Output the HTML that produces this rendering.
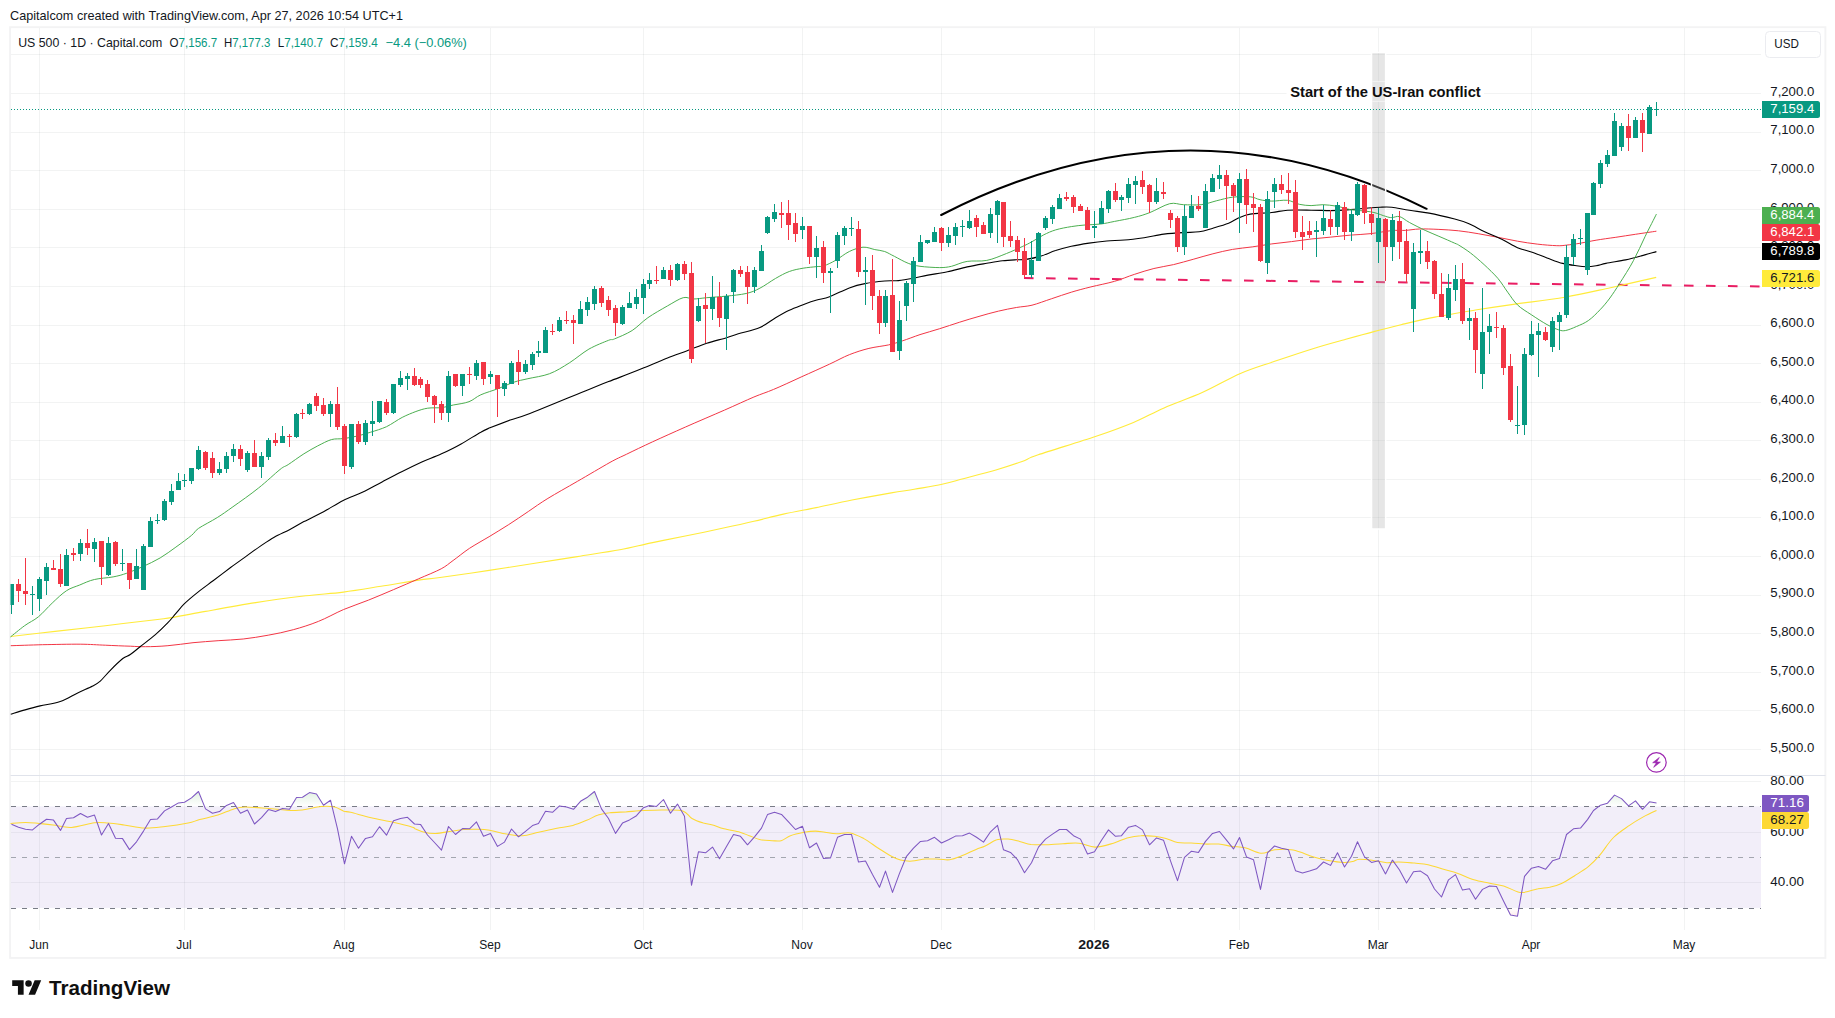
<!DOCTYPE html>
<html lang="en"><head><meta charset="utf-8"><title>US 500 chart</title>
<style>html,body{margin:0;padding:0;background:#fff}body{width:1835px;height:1018px;overflow:hidden}svg{display:block}</style></head>
<body>
<svg width="1835" height="1018" viewBox="0 0 1835 1018" font-family='"Liberation Sans", Arial, sans-serif'>
<defs><clipPath id="cm"><rect x="10.5" y="27.5" width="1750.5" height="748"/></clipPath><clipPath id="cr"><rect x="10.5" y="776" width="1750.5" height="154"/></clipPath><clipPath id="cup"><rect x="10" y="776" width="1751" height="30.4"/></clipPath><clipPath id="cdn"><rect x="10" y="908.2" width="1751" height="22"/></clipPath><linearGradient id="gup" gradientUnits="userSpaceOnUse" x1="0" y1="730.9" x2="0" y2="806.4"><stop offset="0" stop-color="#4caf50" stop-opacity="0.85"/><stop offset="1" stop-color="#4caf50" stop-opacity="0"/></linearGradient><linearGradient id="gdn" gradientUnits="userSpaceOnUse" x1="0" y1="907.8" x2="0" y2="983.6"><stop offset="0" stop-color="#f23645" stop-opacity="0"/><stop offset="1" stop-color="#f23645" stop-opacity="0.85"/></linearGradient></defs>
<rect width="1835" height="1018" fill="#fff"/>
<text x="10" y="20" font-size="12.7" fill="#131722" textLength="393" lengthAdjust="spacingAndGlyphs">Capitalcom created with TradingView.com, Apr 27, 2026 10:54 UTC+1</text>
<rect x="10.1" y="27.2" width="1815.3" height="930.7" fill="none" stroke="#f3f3f4" stroke-width="1.9"/>
<path d="M10.5 749.5H1761 M10.5 710.5H1761 M10.5 672.5H1761 M10.5 633.5H1761 M10.5 595.5H1761 M10.5 556.5H1761 M10.5 517.5H1761 M10.5 479.5H1761 M10.5 440.5H1761 M10.5 402.5H1761 M10.5 363.5H1761 M10.5 325.5H1761 M10.5 286.5H1761 M10.5 247.5H1761 M10.5 209.5H1761 M10.5 170.5H1761 M10.5 132.5H1761 M10.5 93.5H1761 M10.5 54.5H1761 M10.5 781.5H1761 M10.5 832.5H1761 M10.5 882.5H1761" stroke="#2a2e39" stroke-opacity="0.06" stroke-width="1" fill="none" shape-rendering="crispEdges"/>
<path d="M39.5 27.5V930 M184.5 27.5V930 M344.5 27.5V930 M490.5 27.5V930 M643.5 27.5V930 M802.5 27.5V930 M941.5 27.5V930 M1094.5 27.5V930 M1239.5 27.5V930 M1378.5 27.5V930 M1531.5 27.5V930 M1684.5 27.5V930" stroke="#2a2e39" stroke-opacity="0.06" stroke-width="1" fill="none" shape-rendering="crispEdges"/>
<rect x="10.5" y="775" width="1815" height="1" fill="#e0e3eb"/>
<g clip-path="url(#cm)">
<path d="M941.2 215 Q1185 89 1426.6 208.8" stroke="#000" stroke-width="2.05" fill="none" stroke-linecap="round"/>
<path d="M1024 278.1L1761 286.4" stroke="#e91e63" stroke-width="2" stroke-dasharray="9.6 12.4" fill="none"/>
<path d="M1024 278.1H1033" stroke="#e91e63" stroke-width="1.2" fill="none"/>
<rect x="1286.5" y="81.4" width="197.5" height="20" fill="#fff"/>
<rect x="1371.55" y="52.45" width="14.1" height="476.5" fill="none" stroke="#fff" stroke-width="1.5"/>
<rect x="1372.3" y="53.2" width="12.6" height="475" fill="#b4b4b4" fill-opacity="0.33"/>
<path d="M1372.3 81.4h12.6M1372.3 101.4h12.6" stroke="#fff" stroke-width="0.8" stroke-opacity="0.7" fill="none"/>
<path d="M10.5 636.5 C18.0 635.6 39.3 633.2 55.1 631.4 C70.9 629.6 88.6 627.6 105.3 625.7 C122.0 623.7 144.1 621.0 155.4 619.7 C166.7 618.3 164.6 618.8 173.0 617.4 C181.3 616.0 191.8 613.9 205.6 611.4 C219.3 608.9 239.0 605.2 255.7 602.6 C272.4 600.0 291.2 597.6 305.8 595.8 C320.5 594.1 330.9 593.7 343.4 592.1 C356.0 590.5 368.5 588.3 381.0 586.3 C393.6 584.3 408.8 581.5 418.6 580.1 C428.5 578.6 428.3 579.2 440.0 577.5 C451.7 575.9 472.7 572.8 489.1 570.4 C505.4 567.9 523.4 565.1 538.1 562.8 C552.8 560.5 563.7 558.8 577.3 556.6 C591.0 554.4 607.3 552.1 619.9 549.8 C632.4 547.4 641.7 544.8 652.6 542.6 C663.5 540.3 673.3 538.5 685.3 536.0 C697.2 533.6 713.1 530.3 724.5 527.8 C735.9 525.4 744.1 523.6 753.9 521.3 C763.7 519.0 773.0 516.4 783.4 514.1 C793.7 511.8 804.6 509.9 816.1 507.6 C827.5 505.2 839.5 502.5 852.0 500.0 C864.6 497.6 880.9 494.7 891.3 492.9 C901.6 491.1 905.7 490.7 914.2 489.3 C922.6 487.8 933.8 486.1 942.0 484.3 C950.1 482.6 954.2 481.2 963.2 478.8 C972.2 476.4 986.1 472.8 995.9 470.0 C1005.7 467.1 1015.0 464.0 1022.1 461.5 C1029.1 458.9 1025.9 459.0 1038.2 454.8 C1050.4 450.6 1079.5 441.9 1095.4 436.5 C1111.3 431.1 1122.1 427.1 1133.5 422.4 C1145.0 417.6 1152.6 412.8 1164.1 407.9 C1175.5 402.9 1189.5 398.3 1202.2 392.6 C1214.9 386.9 1228.3 378.8 1240.4 373.5 C1252.4 368.3 1262.6 365.5 1274.7 361.3 C1286.8 357.2 1301.4 352.3 1312.9 348.7 C1324.3 345.2 1333.2 342.8 1343.4 340.0 C1353.6 337.1 1363.7 334.2 1373.9 331.6 C1384.1 328.9 1394.3 326.4 1404.4 323.9 C1414.6 321.5 1422.9 319.4 1434.9 317.1 C1447.0 314.7 1463.6 312.0 1476.9 309.8 C1490.3 307.7 1500.4 306.2 1515.1 304.1 C1529.7 302.0 1548.8 300.0 1564.7 297.2 C1580.6 294.5 1595.2 291.0 1610.5 287.7 C1625.7 284.4 1648.6 279.1 1656.2 277.4" stroke="#ffeb3b" stroke-width="1.1" fill="none"/>
<path d="M10.5 645.7 C15.9 645.6 31.0 645.0 42.6 644.7 C54.2 644.5 69.8 644.1 80.2 644.2 C90.7 644.3 96.9 644.9 105.3 645.2 C113.6 645.6 123.7 646.0 130.3 646.2 C137.0 646.5 139.1 646.8 145.4 646.7 C151.7 646.7 160.0 646.4 167.9 645.7 C175.9 645.1 184.7 643.6 193.0 642.7 C201.4 641.9 209.7 641.3 218.1 640.7 C226.4 640.1 234.8 639.9 243.2 639.0 C251.5 638.0 259.9 636.8 268.2 635.2 C276.6 633.7 284.9 632.0 293.3 629.7 C301.6 627.4 310.0 624.8 318.4 621.4 C326.7 618.1 335.1 613.2 343.4 609.6 C351.8 606.1 360.1 603.5 368.5 600.1 C376.9 596.8 385.2 593.1 393.6 589.6 C401.9 586.0 410.7 582.3 418.6 578.8 C426.6 575.3 435.5 571.8 441.2 568.8 C446.9 565.7 448.4 563.9 453.1 560.5 C457.8 557.2 463.4 552.4 469.4 548.4 C475.4 544.5 482.5 540.6 489.1 536.7 C495.6 532.7 502.1 528.8 508.7 524.6 C515.2 520.4 521.8 515.9 528.3 511.5 C534.8 507.1 539.7 503.4 547.9 498.4 C556.1 493.4 567.0 487.4 577.3 481.4 C587.7 475.4 601.9 467.0 610.0 462.4 C618.2 457.9 619.3 457.7 626.4 454.3 C633.5 450.8 642.7 446.4 652.6 441.8 C662.4 437.3 673.3 432.4 685.3 427.1 C697.2 421.8 713.1 415.1 724.5 410.1 C735.9 405.1 745.7 400.5 753.9 397.0 C762.1 393.6 765.8 392.7 773.6 389.4 C781.5 386.1 791.8 381.3 801.1 377.0 C810.5 372.8 821.6 367.8 829.6 364.1 C837.7 360.4 842.7 357.3 849.3 354.7 C855.8 352.1 862.4 350.0 868.9 348.4 C875.5 346.8 883.0 346.1 888.6 344.9 C894.2 343.6 897.1 342.6 902.3 340.9 C907.6 339.2 913.8 336.7 920.0 334.6 C926.2 332.6 933.1 330.8 939.7 328.7 C946.2 326.7 952.8 324.3 959.3 322.3 C965.9 320.2 972.4 318.2 979.0 316.4 C985.5 314.5 992.4 312.5 998.6 311.1 C1004.8 309.6 1010.7 308.5 1016.3 307.5 C1021.9 306.5 1026.1 306.6 1032.0 305.2 C1037.9 303.7 1045.1 300.8 1051.7 298.7 C1058.2 296.5 1064.7 294.2 1071.3 292.2 C1077.8 290.2 1083.7 288.7 1090.9 286.9 C1098.2 285.1 1107.4 283.4 1114.6 281.3 C1121.9 279.2 1127.7 276.5 1134.3 274.4 C1140.8 272.3 1147.4 270.1 1153.9 268.5 C1160.5 266.9 1167.0 266.1 1173.6 264.6 C1180.1 263.0 1186.7 261.1 1193.2 259.3 C1199.8 257.5 1206.3 255.4 1212.9 253.8 C1219.4 252.1 1226.0 250.6 1232.5 249.4 C1239.1 248.3 1245.6 247.8 1252.2 246.9 C1258.7 246.0 1265.3 244.8 1271.8 243.9 C1278.4 243.1 1284.9 242.4 1291.5 241.6 C1298.0 240.8 1304.6 239.8 1311.1 239.0 C1317.7 238.3 1324.2 237.7 1330.8 237.1 C1337.3 236.4 1343.9 235.7 1350.4 235.1 C1357.0 234.6 1363.2 234.5 1370.0 233.7 C1376.9 233.0 1385.9 231.1 1391.8 230.6 C1397.7 230.0 1401.0 230.6 1405.5 230.4 C1410.1 230.1 1413.7 229.2 1419.3 229.0 C1424.9 228.8 1432.4 229.1 1438.9 229.4 C1445.5 229.7 1452.0 230.1 1458.6 230.8 C1465.1 231.5 1471.7 232.6 1478.2 233.7 C1484.8 234.8 1491.3 236.0 1497.9 237.3 C1504.4 238.5 1511.0 240.0 1517.5 241.2 C1524.1 242.3 1530.6 243.4 1537.2 244.1 C1543.7 244.9 1551.9 245.5 1556.8 245.7 C1561.7 245.9 1562.7 245.5 1566.6 245.1 C1570.6 244.7 1575.5 244.0 1580.4 243.2 C1585.3 242.3 1590.2 241.2 1596.1 240.2 C1602.0 239.2 1609.2 238.2 1615.8 237.3 C1622.3 236.3 1628.6 235.3 1635.4 234.3 C1642.2 233.3 1652.9 231.7 1656.4 231.2" stroke="#f23645" stroke-width="1.0" fill="none"/>
<path d="M10.5 714.2 C12.9 713.5 20.1 711.3 25.1 709.9 C30.0 708.5 34.2 707.3 40.1 705.9 C45.9 704.5 53.9 703.8 60.2 701.6 C66.4 699.5 72.3 695.5 77.7 692.9 C83.1 690.3 89.0 688.1 92.7 686.1 C96.5 684.1 97.3 683.7 100.3 681.1 C103.2 678.5 106.5 674.1 110.3 670.3 C114.0 666.5 119.5 661.2 122.8 658.5 C126.2 655.9 127.4 656.5 130.3 654.5 C133.3 652.5 136.2 649.8 140.4 646.5 C144.6 643.2 150.8 638.7 155.4 634.7 C160.0 630.7 164.6 626.1 167.9 622.7 C171.3 619.2 172.8 617.0 175.5 613.9 C178.2 610.8 180.5 607.5 184.2 603.9 C188.0 600.2 193.2 595.9 198.0 592.1 C202.8 588.2 207.6 584.9 213.1 580.8 C218.5 576.7 225.0 571.7 230.6 567.5 C236.2 563.4 241.7 559.5 246.7 555.9 C251.6 552.3 255.8 549.2 260.4 546.1 C265.0 543.0 269.2 540.0 274.2 537.2 C279.1 534.5 284.9 532.0 289.9 529.4 C294.8 526.8 298.3 524.5 303.9 521.6 C309.6 518.6 317.0 515.2 323.6 511.7 C330.1 508.2 336.7 503.8 343.2 500.5 C349.8 497.3 356.3 495.2 362.9 492.1 C369.4 488.9 376.0 485.1 382.5 481.7 C389.1 478.2 395.6 474.7 402.2 471.5 C408.7 468.2 415.3 465.0 421.8 462.0 C428.4 459.1 434.9 456.8 441.5 453.8 C448.0 450.8 454.6 447.6 461.1 443.9 C467.7 440.3 475.8 434.9 480.8 432.2 C485.7 429.4 485.7 429.7 490.6 427.6 C495.5 425.6 503.7 422.3 510.2 420.0 C516.8 417.6 516.8 418.6 529.9 413.5 C543.0 408.4 575.8 394.7 588.9 389.4 C602.1 384.1 602.0 384.1 608.6 381.6 C615.1 379.0 622.3 376.4 628.2 374.1 C634.1 371.8 637.4 370.5 643.9 367.8 C650.5 365.1 660.3 360.8 667.5 358.0 C674.7 355.1 680.6 353.2 687.2 350.7 C693.7 348.3 700.3 345.4 706.8 343.2 C713.4 341.1 721.2 339.3 726.5 337.7 C731.7 336.2 732.7 335.5 738.3 333.8 C743.8 332.1 753.6 330.2 759.9 327.5 C766.1 324.8 770.7 320.6 775.6 317.7 C780.5 314.8 784.4 312.5 789.3 310.2 C794.2 307.9 800.5 305.7 805.0 303.9 C809.6 302.2 812.7 301.2 816.8 300.0 C820.9 298.8 824.2 298.7 829.6 296.7 C835.1 294.7 843.4 290.1 849.3 287.9 C855.2 285.7 859.1 284.7 865.0 283.6 C870.9 282.4 879.1 281.5 884.7 281.0 C890.2 280.5 893.5 281.1 898.4 280.6 C903.3 280.1 909.2 279.0 914.1 278.1 C919.0 277.1 922.3 276.2 927.9 275.1 C933.4 274.1 941.0 273.1 947.5 271.8 C954.1 270.4 960.6 268.3 967.2 266.9 C973.7 265.4 980.9 264.3 986.8 263.3 C992.7 262.3 997.6 261.4 1002.5 260.8 C1007.4 260.2 1012.4 260.0 1016.3 259.8 C1020.2 259.6 1022.2 259.9 1026.1 259.4 C1030.0 258.8 1035.0 257.9 1039.9 256.4 C1044.8 255.0 1050.3 252.3 1055.6 250.6 C1060.8 248.8 1065.7 247.5 1071.3 246.2 C1076.9 245.0 1083.1 244.0 1089.0 243.1 C1094.9 242.2 1100.9 241.5 1106.8 241.0 C1112.7 240.5 1118.2 240.6 1124.5 240.0 C1130.7 239.5 1137.6 238.6 1144.1 237.7 C1150.7 236.7 1157.2 235.0 1163.8 234.1 C1170.3 233.3 1177.5 232.9 1183.4 232.6 C1189.3 232.2 1194.2 232.5 1199.1 231.8 C1204.0 231.0 1208.0 229.6 1212.9 228.2 C1217.8 226.8 1224.3 225.0 1228.6 223.3 C1232.9 221.6 1234.8 219.6 1238.4 218.0 C1242.0 216.5 1244.6 215.0 1250.2 214.1 C1255.8 213.2 1265.6 213.2 1271.8 212.5 C1278.0 211.9 1281.0 210.6 1287.5 210.2 C1294.1 209.8 1303.9 210.1 1311.1 210.2 C1318.3 210.2 1324.2 210.6 1330.8 210.6 C1337.3 210.5 1344.5 210.0 1350.4 209.6 C1356.3 209.2 1361.2 208.6 1366.1 208.2 C1371.1 207.8 1375.7 207.4 1380.0 207.2 C1384.3 207.0 1386.9 206.7 1391.8 207.2 C1396.7 207.7 1403.2 209.4 1409.5 210.3 C1415.7 211.3 1421.6 211.7 1429.1 213.1 C1436.6 214.5 1448.1 217.3 1454.7 219.0 C1461.2 220.7 1463.5 221.4 1468.4 223.5 C1473.3 225.6 1478.6 228.7 1484.1 231.4 C1489.7 234.0 1496.2 236.5 1501.8 239.2 C1507.4 241.9 1512.6 245.5 1517.5 247.7 C1522.4 249.8 1526.4 250.3 1531.3 252.0 C1536.2 253.7 1541.8 256.0 1547.0 257.9 C1552.2 259.8 1557.8 262.1 1562.7 263.4 C1567.6 264.7 1572.5 265.2 1576.5 265.7 C1580.4 266.3 1583.0 266.7 1586.3 266.7 C1589.6 266.7 1592.8 266.3 1596.1 265.7 C1599.4 265.2 1601.0 264.4 1605.9 263.4 C1610.8 262.4 1619.7 261.1 1625.6 259.9 C1631.5 258.6 1636.2 257.3 1641.3 255.9 C1646.4 254.5 1653.9 252.3 1656.4 251.6" stroke="#000" stroke-width="1.1" fill="none"/>
<path d="M9.9 637.4 C12.4 635.5 19.9 629.1 24.6 625.7 C29.4 622.2 33.8 620.6 38.4 616.8 C43.0 613.1 47.5 607.4 52.2 603.1 C56.8 598.7 61.9 593.7 66.5 590.7 C71.1 587.7 75.0 586.9 79.7 585.0 C84.3 583.1 88.8 580.8 94.4 579.5 C100.0 578.1 107.7 578.0 113.1 576.9 C118.5 575.9 121.9 574.9 126.8 573.2 C131.7 571.5 137.0 569.3 142.5 566.7 C148.1 564.2 154.6 561.2 160.2 557.9 C165.8 554.6 170.7 550.8 175.9 547.1 C181.2 543.3 187.9 538.4 191.6 535.3 C195.4 532.2 194.3 531.4 198.5 528.4 C202.8 525.5 211.5 521.2 217.2 517.6 C222.9 514.0 226.0 511.7 232.9 506.8 C239.8 501.9 250.6 494.4 258.4 488.1 C266.3 481.9 275.1 473.4 280.0 469.5 C285.0 465.5 284.2 467.2 288.2 464.6 C292.2 462.0 299.0 456.9 303.9 453.8 C308.9 450.7 313.1 448.3 317.7 445.9 C322.3 443.6 327.2 440.8 331.4 439.6 C335.7 438.4 339.0 439.2 343.2 438.6 C347.5 438.1 352.4 437.2 357.0 436.1 C361.6 435.0 365.8 433.7 370.7 432.2 C375.6 430.6 381.2 429.1 386.5 426.7 C391.7 424.2 397.3 419.9 402.2 417.4 C407.1 414.9 411.7 413.1 415.9 411.5 C420.2 410.0 423.5 408.8 427.7 408.2 C432.0 407.5 437.2 408.1 441.5 407.6 C445.7 407.1 448.7 406.0 453.3 405.0 C457.8 404.1 464.4 403.4 469.0 401.7 C473.6 400.0 475.8 397.0 480.8 394.8 C485.7 392.6 492.9 390.7 498.4 388.5 C504.0 386.4 509.2 383.7 514.2 382.1 C519.1 380.4 522.0 380.1 527.9 378.7 C533.8 377.3 542.7 376.3 549.6 373.7 C556.5 371.1 562.7 367.0 569.3 362.9 C575.8 358.8 582.4 352.9 588.9 349.1 C595.5 345.4 604.3 342.0 608.6 340.3 C612.8 338.6 610.6 340.6 614.5 338.9 C618.4 337.3 626.6 334.0 632.2 330.5 C637.7 326.9 642.0 321.8 647.9 317.7 C653.8 313.6 661.6 309.3 667.5 305.9 C673.4 302.6 679.0 298.8 683.2 297.7 C687.5 296.5 689.1 299.0 693.1 299.0 C697.0 299.0 701.3 298.2 706.8 297.7 C712.4 297.2 719.9 296.8 726.5 296.1 C733.0 295.4 740.5 294.8 746.1 293.5 C751.7 292.2 755.0 290.8 759.9 288.2 C764.8 285.7 770.7 281.2 775.6 278.4 C780.5 275.6 784.7 273.2 789.3 271.5 C793.9 269.8 798.5 269.0 803.1 268.2 C807.7 267.4 813.4 267.0 816.8 266.6 C820.3 266.2 820.6 266.9 823.8 265.9 C826.9 264.8 831.3 262.8 835.5 260.4 C839.8 258.0 844.7 253.7 849.3 251.5 C853.9 249.3 858.8 247.5 863.0 247.2 C867.3 246.9 871.2 248.8 874.8 249.6 C878.4 250.3 881.4 250.4 884.7 251.5 C887.9 252.7 890.6 254.5 894.5 256.4 C898.4 258.4 904.0 261.7 908.2 263.3 C912.5 265.0 914.8 265.5 920.0 266.3 C925.3 267.0 934.4 267.6 939.7 267.6 C944.9 267.6 946.9 267.3 951.5 266.3 C956.0 265.2 961.3 262.3 967.2 261.4 C973.1 260.4 980.3 261.7 986.8 260.4 C993.4 259.1 1000.6 255.8 1006.5 253.5 C1012.4 251.2 1017.9 248.6 1022.2 246.6 C1026.4 244.7 1028.4 243.7 1032.0 241.7 C1035.6 239.7 1039.9 236.8 1043.8 234.8 C1047.7 232.9 1051.0 231.3 1055.6 229.9 C1060.2 228.5 1066.4 227.4 1071.3 226.6 C1076.2 225.8 1080.1 225.4 1085.0 225.0 C1090.0 224.6 1095.8 224.6 1100.8 224.0 C1105.7 223.4 1109.1 222.5 1114.6 221.4 C1120.2 220.3 1128.4 218.9 1134.3 217.4 C1140.2 216.0 1144.1 214.8 1150.0 212.5 C1155.9 210.2 1164.1 205.0 1169.7 203.7 C1175.2 202.4 1178.2 204.5 1183.4 204.7 C1188.6 204.8 1195.5 205.3 1201.1 204.7 C1206.7 204.0 1211.6 202.0 1216.8 200.7 C1222.0 199.5 1227.0 197.8 1232.5 197.2 C1238.1 196.5 1245.6 196.4 1250.2 196.8 C1254.8 197.2 1256.4 199.0 1260.0 199.7 C1263.6 200.5 1267.2 201.0 1271.8 201.1 C1276.4 201.2 1283.0 199.8 1287.5 200.3 C1292.1 200.9 1295.4 203.4 1299.3 204.3 C1303.3 205.1 1307.2 205.6 1311.1 205.6 C1315.0 205.7 1318.6 204.6 1322.9 204.7 C1327.2 204.8 1332.1 205.4 1336.7 206.2 C1341.2 207.0 1346.5 208.8 1350.4 209.6 C1354.3 210.3 1356.3 210.1 1360.2 210.6 C1364.2 211.0 1369.7 211.5 1374.0 212.5 C1378.2 213.5 1382.8 215.6 1385.8 216.4 C1388.7 217.3 1389.5 217.6 1391.8 217.6 C1394.1 217.6 1396.7 215.8 1399.6 216.6 C1402.6 217.4 1405.2 220.2 1409.5 222.5 C1413.7 224.8 1420.3 228.1 1425.2 230.4 C1430.1 232.7 1434.0 234.1 1438.9 236.3 C1443.9 238.4 1451.4 241.7 1454.7 243.2 C1457.9 244.6 1456.0 243.4 1458.6 245.0 C1461.2 246.6 1466.1 249.6 1470.4 252.9 C1474.6 256.1 1479.5 260.4 1484.1 264.6 C1488.7 268.9 1493.9 273.8 1497.9 278.4 C1501.8 283.0 1504.4 287.7 1507.7 292.2 C1511.0 296.6 1513.6 301.2 1517.5 304.9 C1521.5 308.7 1526.4 311.5 1531.3 314.7 C1536.2 318.0 1542.4 322.0 1547.0 324.6 C1551.6 327.1 1555.7 328.9 1558.8 329.9 C1561.9 330.9 1562.7 331.0 1565.7 330.5 C1568.6 329.9 1572.7 328.2 1576.5 326.5 C1580.2 324.9 1584.3 323.4 1588.3 320.6 C1592.2 317.9 1596.4 313.6 1600.0 309.8 C1603.6 306.1 1606.6 302.5 1609.9 298.0 C1613.1 293.6 1615.8 289.5 1619.7 283.3 C1623.6 277.1 1629.2 268.6 1633.4 260.7 C1637.7 252.9 1641.4 244.1 1645.2 236.3 C1649.1 228.5 1654.6 217.8 1656.4 214.1" stroke="#4caf50" stroke-width="1.0" fill="none"/>
<path d="M10.5 109.5H1761" stroke="#089981" stroke-width="1" stroke-dasharray="1 2" fill="none" shape-rendering="crispEdges"/>
<path d="M11 584h1V614h-1Z M9 584h5V605h-5Z M32 586h1V615h-1Z M30 594h5V595h-5Z M39 577h1V611h-1Z M37 579h5V599h-5Z M46 563h1V595h-1Z M44 567h5V581h-5Z M66 549h1V586h-1Z M64 555h5V586h-5Z M80 539h1V561h-1Z M78 543h5V554h-5Z M94 538h1V562h-1Z M92 542h5V549h-5Z M108 537h1V576h-1Z M106 543h5V575h-5Z M122 549h1V571h-1Z M120 563h5V564h-5Z M136 549h1V579h-1Z M134 566h5V579h-5Z M143 544h1V590h-1Z M141 546h5V590h-5Z M150 517h1V547h-1Z M148 521h5V547h-5Z M157 514h1V524h-1Z M155 520h5V521h-5Z M164 499h1V521h-1Z M162 501h5V520h-5Z M171 484h1V505h-1Z M169 491h5V502h-5Z M178 473h1V490h-1Z M176 481h5V490h-5Z M184 474h1V487h-1Z M182 480h5V481h-5Z M191 468h1V484h-1Z M189 468h5V481h-5Z M198 446h1V470h-1Z M196 450h5V469h-5Z M219 462h1V475h-1Z M217 469h5V473h-5Z M226 452h1V473h-1Z M224 456h5V469h-5Z M233 444h1V462h-1Z M231 449h5V456h-5Z M247 451h1V472h-1Z M245 453h5V470h-5Z M261 452h1V478h-1Z M259 456h5V467h-5Z M268 438h1V460h-1Z M266 440h5V457h-5Z M282 426h1V443h-1Z M280 436h5V443h-5Z M296 413h1V438h-1Z M294 414h5V437h-5Z M309 403h1V415h-1Z M307 404h5V414h-5Z M330 401h1V427h-1Z M328 404h5V414h-5Z M351 424h1V469h-1Z M349 424h5V467h-5Z M365 420h1V445h-1Z M363 423h5V442h-5Z M372 401h1V436h-1Z M370 421h5V424h-5Z M379 401h1V423h-1Z M377 401h5V422h-5Z M393 384h1V414h-1Z M391 384h5V413h-5Z M400 371h1V387h-1Z M398 378h5V385h-5Z M407 373h1V390h-1Z M405 376h5V379h-5Z M448 371h1V422h-1Z M446 376h5V413h-5Z M462 374h1V396h-1Z M460 374h5V386h-5Z M476 360h1V380h-1Z M474 363h5V376h-5Z M490 371h1V384h-1Z M488 374h5V377h-5Z M504 381h1V396h-1Z M502 383h5V389h-5Z M511 361h1V384h-1Z M509 363h5V384h-5Z M525 360h1V374h-1Z M523 364h5V372h-5Z M532 352h1V370h-1Z M530 354h5V365h-5Z M538 341h1V357h-1Z M536 351h5V353h-5Z M545 327h1V353h-1Z M543 330h5V353h-5Z M559 317h1V332h-1Z M557 320h5V331h-5Z M580 301h1V324h-1Z M578 309h5V324h-5Z M587 297h1V316h-1Z M585 302h5V310h-5Z M594 286h1V310h-1Z M592 289h5V304h-5Z M622 305h1V325h-1Z M620 307h5V324h-5Z M629 292h1V308h-1Z M627 303h5V308h-5Z M636 289h1V309h-1Z M634 297h5V304h-5Z M643 279h1V314h-1Z M641 284h5V298h-5Z M649 273h1V289h-1Z M647 280h5V284h-5Z M663 267h1V279h-1Z M661 270h5V279h-5Z M677 263h1V281h-1Z M675 264h5V280h-5Z M698 298h1V322h-1Z M696 306h5V321h-5Z M712 276h1V320h-1Z M710 297h5V309h-5Z M726 294h1V350h-1Z M724 296h5V319h-5Z M733 269h1V303h-1Z M731 270h5V292h-5Z M754 267h1V293h-1Z M752 270h5V287h-5Z M761 245h1V271h-1Z M759 251h5V271h-5Z M767 216h1V234h-1Z M765 217h5V233h-5Z M774 204h1V222h-1Z M772 212h5V219h-5Z M802 217h1V239h-1Z M800 226h5V230h-5Z M816 236h1V278h-1Z M814 248h5V257h-5Z M830 268h1V313h-1Z M828 271h5V273h-5Z M837 232h1V268h-1Z M835 235h5V261h-5Z M844 226h1V245h-1Z M842 228h5V236h-5Z M851 217h1V236h-1Z M849 228h5V229h-5Z M865 257h1V305h-1Z M863 270h5V272h-5Z M885 290h1V327h-1Z M883 296h5V323h-5Z M899 301h1V360h-1Z M897 320h5V351h-5Z M906 281h1V321h-1Z M904 283h5V306h-5Z M913 257h1V302h-1Z M911 261h5V284h-5Z M920 235h1V262h-1Z M918 242h5V262h-5Z M927 240h1V244h-1Z M925 240h5V243h-5Z M934 227h1V242h-1Z M932 232h5V242h-5Z M948 227h1V247h-1Z M946 235h5V243h-5Z M955 223h1V245h-1Z M953 227h5V236h-5Z M962 220h1V237h-1Z M960 226h5V227h-5Z M969 210h1V229h-1Z M967 221h5V228h-5Z M990 208h1V238h-1Z M988 214h5V233h-5Z M997 200h1V243h-1Z M995 201h5V215h-5Z M1031 241h1V278h-1Z M1029 260h5V275h-5Z M1038 232h1V261h-1Z M1036 233h5V261h-5Z M1045 216h1V230h-1Z M1043 218h5V228h-5Z M1052 205h1V224h-1Z M1050 207h5V219h-5Z M1059 194h1V209h-1Z M1057 198h5V209h-5Z M1094 211h1V238h-1Z M1092 226h5V228h-5Z M1101 201h1V224h-1Z M1099 208h5V224h-5Z M1108 190h1V213h-1Z M1106 191h5V209h-5Z M1121 195h1V211h-1Z M1119 197h5V200h-5Z M1128 178h1V203h-1Z M1126 184h5V198h-5Z M1135 176h1V204h-1Z M1133 181h5V185h-5Z M1156 178h1V204h-1Z M1154 191h5V202h-5Z M1184 205h1V255h-1Z M1182 216h5V247h-5Z M1191 195h1V218h-1Z M1189 206h5V218h-5Z M1205 184h1V228h-1Z M1203 191h5V228h-5Z M1212 174h1V192h-1Z M1210 178h5V192h-5Z M1219 165h1V189h-1Z M1217 175h5V179h-5Z M1239 173h1V233h-1Z M1237 179h5V203h-5Z M1267 191h1V274h-1Z M1265 199h5V263h-5Z M1274 178h1V208h-1Z M1272 184h5V192h-5Z M1316 221h1V257h-1Z M1314 230h5V232h-5Z M1323 205h1V235h-1Z M1321 218h5V231h-5Z M1337 202h1V235h-1Z M1335 205h5V227h-5Z M1351 210h1V241h-1Z M1349 214h5V232h-5Z M1357 182h1V216h-1Z M1355 184h5V215h-5Z M1378 208h1V263h-1Z M1376 218h5V242h-5Z M1392 214h1V261h-1Z M1390 220h5V247h-5Z M1413 243h1V332h-1Z M1411 252h5V309h-5Z M1420 230h1V264h-1Z M1418 251h5V253h-5Z M1448 274h1V320h-1Z M1446 288h5V318h-5Z M1455 265h1V301h-1Z M1453 279h5V290h-5Z M1469 308h1V340h-1Z M1467 318h5V321h-5Z M1482 288h1V389h-1Z M1480 332h5V374h-5Z M1489 314h1V354h-1Z M1487 326h5V332h-5Z M1517 386h1V434h-1Z M1515 425h5V426h-5Z M1524 348h1V435h-1Z M1522 354h5V425h-5Z M1531 321h1V356h-1Z M1529 334h5V355h-5Z M1538 323h1V377h-1Z M1536 331h5V335h-5Z M1552 317h1V352h-1Z M1550 321h5V347h-5Z M1559 312h1V350h-1Z M1557 315h5V322h-5Z M1566 245h1V318h-1Z M1564 257h5V315h-5Z M1573 234h1V265h-1Z M1571 239h5V257h-5Z M1580 229h1V245h-1Z M1578 238h5V239h-5Z M1587 213h1V275h-1Z M1585 213h5V270h-5Z M1593 182h1V215h-1Z M1591 183h5V215h-5Z M1600 160h1V188h-1Z M1598 163h5V184h-5Z M1607 150h1V167h-1Z M1605 155h5V164h-5Z M1614 113h1V156h-1Z M1612 121h5V156h-5Z M1621 123h1V151h-1Z M1619 126h5V147h-5Z M1635 117h1V138h-1Z M1633 120h5V138h-5Z M1649 105h1V134h-1Z M1647 107h5V134h-5Z M1656 102h1V116h-1Z M1654 109h5V110h-5Z" fill="#089981" shape-rendering="crispEdges"/>
<path d="M18 579h1V602h-1Z M16 584h5V591h-5Z M25 558h1V605h-1Z M23 591h5V594h-5Z M53 560h1V570h-1Z M51 568h5V570h-5Z M60 554h1V587h-1Z M58 569h5V584h-5Z M73 548h1V561h-1Z M71 553h5V555h-5Z M87 529h1V555h-1Z M85 543h5V548h-5Z M101 541h1V585h-1Z M99 541h5V567h-5Z M115 541h1V566h-1Z M113 542h5V564h-5Z M129 563h1V589h-1Z M127 563h5V580h-5Z M205 451h1V470h-1Z M203 452h5V468h-5Z M212 452h1V478h-1Z M210 458h5V473h-5Z M240 445h1V466h-1Z M238 449h5V459h-5Z M254 440h1V467h-1Z M252 453h5V467h-5Z M275 433h1V446h-1Z M273 440h5V443h-5Z M289 434h1V447h-1Z M287 436h5V437h-5Z M302 409h1V419h-1Z M300 413h5V414h-5Z M316 393h1V411h-1Z M314 396h5V406h-5Z M323 398h1V416h-1Z M321 405h5V414h-5Z M337 387h1V430h-1Z M335 404h5V427h-5Z M344 424h1V474h-1Z M342 426h5V466h-5Z M358 421h1V444h-1Z M356 424h5V442h-5Z M386 399h1V415h-1Z M384 402h5V413h-5Z M414 368h1V386h-1Z M412 376h5V385h-5Z M420 377h1V388h-1Z M418 379h5V385h-5Z M427 380h1V402h-1Z M425 384h5V397h-5Z M434 395h1V423h-1Z M432 396h5V405h-5Z M441 401h1V420h-1Z M439 404h5V413h-5Z M455 374h1V387h-1Z M453 374h5V386h-5Z M469 367h1V384h-1Z M467 374h5V375h-5Z M483 362h1V385h-1Z M481 362h5V379h-5Z M497 375h1V417h-1Z M495 375h5V389h-5Z M518 350h1V385h-1Z M516 362h5V372h-5Z M552 324h1V335h-1Z M550 331h5V332h-5Z M566 311h1V324h-1Z M564 320h5V321h-5Z M573 315h1V344h-1Z M571 320h5V323h-5Z M601 286h1V307h-1Z M599 288h5V303h-5Z M608 296h1V316h-1Z M606 300h5V310h-5Z M615 305h1V336h-1Z M613 308h5V323h-5Z M656 266h1V284h-1Z M654 280h5V281h-5Z M670 265h1V286h-1Z M668 270h5V280h-5Z M684 261h1V280h-1Z M682 264h5V274h-5Z M691 262h1V363h-1Z M689 273h5V359h-5Z M705 293h1V343h-1Z M703 305h5V309h-5Z M719 282h1V327h-1Z M717 297h5V318h-5Z M740 266h1V277h-1Z M738 270h5V274h-5Z M747 266h1V304h-1Z M745 272h5V287h-5Z M781 202h1V228h-1Z M779 213h5V215h-5Z M788 200h1V240h-1Z M786 213h5V225h-5Z M795 213h1V242h-1Z M793 223h5V234h-5Z M809 226h1V264h-1Z M807 226h5V257h-5Z M823 241h1V283h-1Z M821 247h5V273h-5Z M858 221h1V277h-1Z M856 229h5V272h-5Z M872 255h1V310h-1Z M870 270h5V296h-5Z M879 290h1V334h-1Z M877 296h5V323h-5Z M892 259h1V352h-1Z M890 295h5V352h-5Z M941 227h1V251h-1Z M939 228h5V243h-5Z M976 215h1V237h-1Z M974 218h5V227h-5Z M983 222h1V234h-1Z M981 225h5V234h-5Z M1003 202h1V247h-1Z M1001 202h5V237h-5Z M1010 221h1V247h-1Z M1008 236h5V241h-5Z M1017 236h1V262h-1Z M1015 240h5V252h-5Z M1024 238h1V278h-1Z M1022 251h5V275h-5Z M1066 192h1V201h-1Z M1064 197h5V199h-5Z M1073 195h1V213h-1Z M1071 197h5V207h-5Z M1080 204h1V211h-1Z M1078 206h5V211h-5Z M1087 207h1V230h-1Z M1085 210h5V230h-5Z M1115 183h1V202h-1Z M1113 191h5V200h-5Z M1142 171h1V194h-1Z M1140 180h5V187h-5Z M1149 184h1V213h-1Z M1147 185h5V202h-5Z M1163 182h1V199h-1Z M1161 192h5V194h-5Z M1170 210h1V228h-1Z M1168 213h5V220h-5Z M1177 216h1V252h-1Z M1175 218h5V247h-5Z M1198 196h1V211h-1Z M1196 206h5V209h-5Z M1226 170h1V220h-1Z M1224 175h5V186h-5Z M1233 183h1V212h-1Z M1231 185h5V196h-5Z M1246 169h1V224h-1Z M1244 179h5V205h-5Z M1253 193h1V232h-1Z M1251 204h5V208h-5Z M1260 204h1V262h-1Z M1258 207h5V261h-5Z M1281 175h1V194h-1Z M1279 184h5V190h-5Z M1288 173h1V204h-1Z M1286 190h5V193h-5Z M1295 180h1V238h-1Z M1293 192h5V232h-5Z M1302 216h1V250h-1Z M1300 232h5V237h-5Z M1309 221h1V238h-1Z M1307 231h5V235h-5Z M1330 210h1V235h-1Z M1328 219h5V227h-5Z M1344 202h1V240h-1Z M1342 207h5V232h-5Z M1364 184h1V224h-1Z M1362 185h5V213h-5Z M1371 207h1V235h-1Z M1369 214h5V223h-5Z M1385 218h1V281h-1Z M1383 219h5V247h-5Z M1399 211h1V259h-1Z M1397 221h5V242h-5Z M1406 229h1V283h-1Z M1404 241h5V274h-5Z M1427 241h1V269h-1Z M1425 251h5V262h-5Z M1434 260h1V299h-1Z M1432 261h5V294h-5Z M1441 273h1V317h-1Z M1439 294h5V317h-5Z M1462 263h1V324h-1Z M1460 279h5V321h-5Z M1475 312h1V373h-1Z M1473 318h5V350h-5Z M1496 312h1V338h-1Z M1494 327h5V328h-5Z M1503 325h1V375h-1Z M1501 328h5V368h-5Z M1510 354h1V422h-1Z M1508 366h5V420h-5Z M1545 327h1V341h-1Z M1543 332h5V340h-5Z M1628 114h1V151h-1Z M1626 126h5V138h-5Z M1642 113h1V152h-1Z M1640 120h5V133h-5Z" fill="#f23645" shape-rendering="crispEdges"/>
<text x="1290.2" y="97" font-size="14.8" font-weight="bold" fill="#0f0f0f" textLength="190.6" lengthAdjust="spacingAndGlyphs">Start of the US-Iran conflict</text>
<circle cx="1656.4" cy="762.4" r="9.8" fill="none" stroke="#9c27b0" stroke-width="1.2"/>
<path d="M1659.3 757.5L1652.7 762.7H1656.4L1653.7 767.3L1660.4 762.1H1656.6Z" fill="#9c27b0" stroke="#9c27b0" stroke-width="0.7" stroke-linejoin="round"/>
</g>
<g clip-path="url(#cr)">
<rect x="10.5" y="806.4" width="1750.5" height="101.5" fill="#7e57c2" fill-opacity="0.1"/>
<path d="M10.5 806.5H1761" stroke="#787b86" stroke-width="1" stroke-dasharray="5.5 5.5" fill="none" shape-rendering="crispEdges"/>
<path d="M10.5 857.5H1761" stroke="#a3a6af" stroke-width="1" stroke-dasharray="5.5 5.5" fill="none" shape-rendering="crispEdges"/>
<path d="M10.5 908.5H1761" stroke="#787b86" stroke-width="1" stroke-dasharray="5.5 5.5" fill="none" shape-rendering="crispEdges"/>
<path d="M11.5 806.4 L11.5 824.2 L18.5 827.2 L25.5 829.2 L32.5 829.9 L39.5 824.2 L46.5 819.2 L53.5 820.1 L60.5 830.4 L66.5 818.5 L73.5 817.8 L80.5 813.5 L87.5 817.3 L94.5 815.1 L101.5 835.0 L108.5 823.5 L115.5 838.2 L122.5 838.6 L129.5 849.6 L136.5 841.8 L143.5 831.1 L150.5 819.6 L157.5 818.9 L164.5 810.9 L171.5 807.0 L178.5 802.9 L184.5 802.2 L191.5 797.9 L198.5 791.5 L205.5 808.9 L212.5 813.2 L219.5 811.6 L226.5 805.4 L233.5 802.5 L240.5 813.2 L247.5 810.0 L254.5 824.0 L261.5 817.6 L268.5 809.6 L275.5 811.6 L282.5 808.4 L289.5 809.3 L296.5 797.4 L302.5 797.2 L309.5 792.6 L316.5 794.0 L323.5 805.2 L330.5 800.2 L337.5 828.8 L344.5 863.8 L351.5 836.3 L358.5 848.2 L365.5 838.4 L372.5 836.8 L379.5 826.7 L386.5 835.2 L393.5 820.8 L400.5 818.5 L407.5 817.3 L414.5 824.0 L420.5 824.4 L427.5 835.0 L434.5 842.5 L441.5 850.1 L448.5 826.5 L455.5 834.5 L462.5 828.6 L469.5 828.8 L476.5 821.9 L483.5 836.3 L490.5 833.6 L497.5 846.4 L504.5 842.1 L511.5 829.0 L518.5 836.8 L525.5 831.3 L532.5 825.6 L538.5 823.5 L545.5 811.2 L552.5 812.3 L559.5 805.9 L566.5 807.0 L573.5 809.3 L580.5 801.3 L587.5 797.2 L594.5 791.5 L601.5 808.9 L608.5 818.5 L615.5 833.4 L622.5 823.1 L629.5 819.9 L636.5 815.7 L643.5 807.7 L649.5 805.4 L656.5 806.4 L663.5 799.5 L670.5 813.2 L677.5 804.1 L684.5 816.2 L691.5 885.3 L698.5 851.7 L705.5 852.8 L712.5 847.1 L719.5 858.8 L726.5 846.6 L733.5 834.5 L740.5 836.3 L747.5 844.8 L754.5 836.8 L761.5 828.1 L767.5 814.6 L774.5 812.3 L781.5 814.4 L788.5 821.9 L795.5 829.5 L802.5 826.3 L809.5 847.8 L816.5 843.0 L823.5 858.5 L830.5 857.9 L837.5 837.3 L844.5 834.5 L851.5 834.5 L858.5 862.0 L865.5 861.1 L872.5 874.6 L879.5 887.2 L885.5 871.1 L892.5 892.4 L899.5 873.4 L906.5 856.3 L913.5 848.2 L920.5 841.4 L927.5 840.7 L934.5 837.3 L941.5 843.0 L948.5 839.8 L955.5 836.1 L962.5 835.7 L969.5 833.1 L976.5 837.3 L983.5 842.1 L990.5 831.8 L997.5 825.4 L1003.5 849.8 L1010.5 852.4 L1017.5 859.7 L1024.5 872.7 L1031.5 862.7 L1038.5 847.1 L1045.5 839.1 L1052.5 834.1 L1059.5 829.5 L1066.5 829.5 L1073.5 835.7 L1080.5 839.1 L1087.5 854.0 L1094.5 851.7 L1101.5 840.2 L1108.5 829.9 L1115.5 836.3 L1121.5 835.7 L1128.5 827.2 L1135.5 825.4 L1142.5 829.9 L1149.5 844.8 L1156.5 837.9 L1163.5 840.2 L1170.5 860.8 L1177.5 880.7 L1184.5 857.4 L1191.5 851.2 L1198.5 852.4 L1205.5 841.4 L1212.5 833.4 L1219.5 831.5 L1226.5 840.2 L1233.5 848.9 L1239.5 837.5 L1246.5 856.9 L1253.5 859.7 L1260.5 889.4 L1267.5 852.8 L1274.5 846.0 L1281.5 848.2 L1288.5 849.8 L1295.5 870.7 L1302.5 873.0 L1309.5 871.1 L1316.5 868.8 L1323.5 862.0 L1330.5 865.4 L1337.5 852.8 L1344.5 867.0 L1351.5 856.3 L1357.5 841.8 L1364.5 856.9 L1371.5 862.4 L1378.5 860.8 L1385.5 873.9 L1392.5 860.1 L1399.5 870.0 L1406.5 883.0 L1413.5 871.8 L1420.5 871.1 L1427.5 875.7 L1434.5 889.0 L1441.5 897.0 L1448.5 879.8 L1455.5 874.6 L1462.5 890.1 L1469.5 888.8 L1475.5 899.3 L1482.5 889.4 L1489.5 886.0 L1496.5 886.5 L1503.5 900.9 L1510.5 915.1 L1517.5 916.2 L1524.5 876.4 L1531.5 868.2 L1538.5 866.6 L1545.5 869.3 L1552.5 860.8 L1559.5 858.5 L1566.5 834.5 L1573.5 828.8 L1580.5 828.1 L1587.5 819.6 L1593.5 810.5 L1600.5 805.2 L1607.5 803.2 L1614.5 795.1 L1621.5 798.6 L1628.5 805.9 L1635.5 800.9 L1642.5 809.3 L1649.5 801.8 L1656.5 802.9 L1656.5 806.4Z" fill="url(#gup)" clip-path="url(#cup)"/>
<path d="M11.5 908.2 L11.5 824.2 L18.5 827.2 L25.5 829.2 L32.5 829.9 L39.5 824.2 L46.5 819.2 L53.5 820.1 L60.5 830.4 L66.5 818.5 L73.5 817.8 L80.5 813.5 L87.5 817.3 L94.5 815.1 L101.5 835.0 L108.5 823.5 L115.5 838.2 L122.5 838.6 L129.5 849.6 L136.5 841.8 L143.5 831.1 L150.5 819.6 L157.5 818.9 L164.5 810.9 L171.5 807.0 L178.5 802.9 L184.5 802.2 L191.5 797.9 L198.5 791.5 L205.5 808.9 L212.5 813.2 L219.5 811.6 L226.5 805.4 L233.5 802.5 L240.5 813.2 L247.5 810.0 L254.5 824.0 L261.5 817.6 L268.5 809.6 L275.5 811.6 L282.5 808.4 L289.5 809.3 L296.5 797.4 L302.5 797.2 L309.5 792.6 L316.5 794.0 L323.5 805.2 L330.5 800.2 L337.5 828.8 L344.5 863.8 L351.5 836.3 L358.5 848.2 L365.5 838.4 L372.5 836.8 L379.5 826.7 L386.5 835.2 L393.5 820.8 L400.5 818.5 L407.5 817.3 L414.5 824.0 L420.5 824.4 L427.5 835.0 L434.5 842.5 L441.5 850.1 L448.5 826.5 L455.5 834.5 L462.5 828.6 L469.5 828.8 L476.5 821.9 L483.5 836.3 L490.5 833.6 L497.5 846.4 L504.5 842.1 L511.5 829.0 L518.5 836.8 L525.5 831.3 L532.5 825.6 L538.5 823.5 L545.5 811.2 L552.5 812.3 L559.5 805.9 L566.5 807.0 L573.5 809.3 L580.5 801.3 L587.5 797.2 L594.5 791.5 L601.5 808.9 L608.5 818.5 L615.5 833.4 L622.5 823.1 L629.5 819.9 L636.5 815.7 L643.5 807.7 L649.5 805.4 L656.5 806.4 L663.5 799.5 L670.5 813.2 L677.5 804.1 L684.5 816.2 L691.5 885.3 L698.5 851.7 L705.5 852.8 L712.5 847.1 L719.5 858.8 L726.5 846.6 L733.5 834.5 L740.5 836.3 L747.5 844.8 L754.5 836.8 L761.5 828.1 L767.5 814.6 L774.5 812.3 L781.5 814.4 L788.5 821.9 L795.5 829.5 L802.5 826.3 L809.5 847.8 L816.5 843.0 L823.5 858.5 L830.5 857.9 L837.5 837.3 L844.5 834.5 L851.5 834.5 L858.5 862.0 L865.5 861.1 L872.5 874.6 L879.5 887.2 L885.5 871.1 L892.5 892.4 L899.5 873.4 L906.5 856.3 L913.5 848.2 L920.5 841.4 L927.5 840.7 L934.5 837.3 L941.5 843.0 L948.5 839.8 L955.5 836.1 L962.5 835.7 L969.5 833.1 L976.5 837.3 L983.5 842.1 L990.5 831.8 L997.5 825.4 L1003.5 849.8 L1010.5 852.4 L1017.5 859.7 L1024.5 872.7 L1031.5 862.7 L1038.5 847.1 L1045.5 839.1 L1052.5 834.1 L1059.5 829.5 L1066.5 829.5 L1073.5 835.7 L1080.5 839.1 L1087.5 854.0 L1094.5 851.7 L1101.5 840.2 L1108.5 829.9 L1115.5 836.3 L1121.5 835.7 L1128.5 827.2 L1135.5 825.4 L1142.5 829.9 L1149.5 844.8 L1156.5 837.9 L1163.5 840.2 L1170.5 860.8 L1177.5 880.7 L1184.5 857.4 L1191.5 851.2 L1198.5 852.4 L1205.5 841.4 L1212.5 833.4 L1219.5 831.5 L1226.5 840.2 L1233.5 848.9 L1239.5 837.5 L1246.5 856.9 L1253.5 859.7 L1260.5 889.4 L1267.5 852.8 L1274.5 846.0 L1281.5 848.2 L1288.5 849.8 L1295.5 870.7 L1302.5 873.0 L1309.5 871.1 L1316.5 868.8 L1323.5 862.0 L1330.5 865.4 L1337.5 852.8 L1344.5 867.0 L1351.5 856.3 L1357.5 841.8 L1364.5 856.9 L1371.5 862.4 L1378.5 860.8 L1385.5 873.9 L1392.5 860.1 L1399.5 870.0 L1406.5 883.0 L1413.5 871.8 L1420.5 871.1 L1427.5 875.7 L1434.5 889.0 L1441.5 897.0 L1448.5 879.8 L1455.5 874.6 L1462.5 890.1 L1469.5 888.8 L1475.5 899.3 L1482.5 889.4 L1489.5 886.0 L1496.5 886.5 L1503.5 900.9 L1510.5 915.1 L1517.5 916.2 L1524.5 876.4 L1531.5 868.2 L1538.5 866.6 L1545.5 869.3 L1552.5 860.8 L1559.5 858.5 L1566.5 834.5 L1573.5 828.8 L1580.5 828.1 L1587.5 819.6 L1593.5 810.5 L1600.5 805.2 L1607.5 803.2 L1614.5 795.1 L1621.5 798.6 L1628.5 805.9 L1635.5 800.9 L1642.5 809.3 L1649.5 801.8 L1656.5 802.9 L1656.5 908.2Z" fill="url(#gdn)" clip-path="url(#cdn)"/>
<path d="M10.0 823.5 C12.6 823.3 20.7 822.4 25.6 822.4 C30.5 822.4 34.8 823.1 39.3 823.5 C43.9 823.9 47.7 824.2 53.1 824.9 C58.4 825.5 64.5 827.8 71.4 827.4 C78.2 827.1 88.2 823.6 94.3 822.8 C100.4 822.1 103.0 822.7 108.0 823.1 C113.0 823.4 117.9 824.1 124.0 824.9 C130.1 825.7 137.8 827.8 144.6 828.1 C151.5 828.4 158.0 827.3 165.2 826.5 C172.5 825.7 182.4 824.2 188.1 823.1 C193.8 821.9 194.6 821.0 199.6 819.6 C204.5 818.3 212.1 816.8 217.9 815.1 C223.6 813.3 229.3 810.2 233.9 808.9 C238.5 807.5 239.6 807.1 245.3 807.0 C251.1 807.0 259.8 807.8 268.2 808.4 C276.6 809.0 286.9 810.8 295.7 810.5 C304.5 810.2 314.4 807.2 320.9 806.6 C327.3 806.0 330.8 806.3 334.6 807.0 C338.4 807.8 341.1 810.3 343.8 811.2 C346.4 812.0 346.0 811.2 350.6 812.3 C355.2 813.4 364.0 816.1 371.2 817.8 C378.5 819.5 387.2 821.0 394.1 822.6 C401.0 824.2 408.9 826.2 412.4 827.2 C415.9 828.2 413.0 827.9 415.0 828.8 C417.0 829.6 420.7 831.5 424.2 832.2 C427.6 833.0 431.4 833.5 435.6 833.4 C439.8 833.3 444.8 832.2 449.3 831.5 C453.9 830.9 458.5 829.9 463.1 829.5 C467.6 829.1 472.6 829.2 476.8 829.2 C481.0 829.3 483.3 829.1 488.2 829.9 C493.2 830.7 500.8 833.1 506.6 834.1 C512.3 835.0 517.2 836.0 522.6 835.7 C527.9 835.3 532.9 833.4 538.6 832.2 C544.3 831.0 551.2 829.5 556.9 828.3 C562.6 827.2 568.0 826.7 572.9 825.4 C577.9 824.0 582.5 822.0 586.7 820.3 C590.9 818.6 594.3 816.3 598.1 815.1 C601.9 813.8 605.0 813.3 609.6 812.8 C614.1 812.2 619.9 812.2 625.6 811.9 C631.3 811.5 637.4 810.8 643.9 810.5 C650.4 810.2 658.0 809.9 664.5 810.0 C671.0 810.1 678.2 809.5 682.8 810.9 C687.4 812.3 688.5 816.5 692.0 818.5 C695.4 820.5 700.0 822.0 703.4 823.1 C706.8 824.1 709.1 823.9 712.6 824.9 C716.0 825.9 719.4 827.6 724.0 828.8 C728.6 830.0 735.8 831.1 740.0 832.2 C744.2 833.4 745.7 834.4 749.2 835.7 C752.6 836.9 756.8 838.9 760.6 839.8 C764.4 840.6 768.6 840.5 772.1 840.7 C775.5 840.8 778.2 841.5 781.2 840.7 C784.3 839.9 786.6 837.1 790.4 835.7 C794.2 834.2 799.9 833.0 804.1 832.2 C808.3 831.5 812.1 831.1 815.5 831.1 C819.0 831.1 821.5 831.8 825.0 832.2 C828.5 832.7 832.2 833.7 836.4 833.8 C840.6 833.9 845.6 832.1 850.2 832.9 C854.8 833.7 859.3 836.2 863.9 838.6 C868.5 841.1 873.1 844.8 877.6 847.8 C882.2 850.7 887.6 854.2 891.4 856.3 C895.2 858.3 897.1 859.3 900.5 860.1 C904.0 860.9 907.8 861.3 912.0 861.1 C916.2 860.9 921.1 859.3 925.7 859.0 C930.3 858.7 935.4 859.1 939.4 859.2 C943.4 859.3 945.9 860.3 949.7 859.7 C953.6 859.1 957.9 857.3 962.3 855.6 C966.7 853.9 972.2 851.0 976.1 849.4 C979.9 847.8 981.8 847.6 985.2 846.0 C988.7 844.4 992.8 840.9 996.7 839.8 C1000.5 838.6 1004.3 838.8 1008.1 839.1 C1011.9 839.4 1015.7 840.5 1019.6 841.4 C1023.4 842.3 1026.8 843.8 1031.0 844.4 C1035.2 844.9 1039.4 844.9 1044.7 844.8 C1050.1 844.7 1057.3 843.9 1063.0 843.7 C1068.8 843.4 1073.7 842.6 1079.1 843.2 C1084.4 843.8 1089.4 847.1 1095.1 847.1 C1100.8 847.1 1108.1 844.7 1113.4 843.2 C1118.7 841.7 1122.6 839.2 1127.1 837.9 C1131.7 836.7 1136.3 835.9 1140.9 835.7 C1145.4 835.4 1150.4 835.9 1154.6 836.3 C1158.8 836.8 1162.2 837.4 1166.0 838.4 C1169.9 839.4 1173.3 841.8 1177.5 842.5 C1181.7 843.3 1186.6 842.7 1191.2 843.0 C1195.8 843.2 1200.4 843.9 1204.9 844.1 C1209.5 844.3 1214.1 843.7 1218.7 844.1 C1223.3 844.5 1228.0 845.8 1232.4 846.4 C1236.8 847.0 1240.2 846.6 1245.0 847.8 C1249.8 848.9 1256.1 852.9 1261.0 853.3 C1266.0 853.6 1269.4 850.4 1274.8 849.8 C1280.1 849.3 1286.6 848.9 1293.1 850.1 C1299.6 851.3 1307.6 855.1 1313.7 856.9 C1319.8 858.7 1324.7 859.9 1329.7 860.8 C1334.6 861.7 1339.6 862.3 1343.4 862.4 C1347.2 862.5 1349.9 862.1 1352.6 861.5 C1355.2 861.0 1356.0 859.4 1359.4 859.2 C1362.9 859.0 1368.6 859.8 1373.2 860.4 C1377.8 860.9 1382.7 862.4 1386.9 862.7 C1391.1 862.9 1393.8 861.9 1398.4 862.0 C1402.9 862.1 1409.4 862.7 1414.4 863.1 C1419.3 863.6 1423.5 863.8 1428.1 864.7 C1432.7 865.7 1436.9 867.4 1441.8 868.8 C1446.8 870.3 1452.5 871.6 1457.9 873.4 C1463.2 875.3 1468.5 878.2 1473.9 879.8 C1479.2 881.5 1484.9 882.2 1489.9 883.3 C1494.9 884.3 1499.1 884.6 1503.6 886.0 C1508.2 887.4 1513.9 890.7 1517.4 891.7 C1520.8 892.8 1520.8 892.9 1524.2 892.4 C1527.7 891.9 1533.8 889.6 1538.0 888.8 C1542.2 887.9 1545.6 888.0 1549.4 887.2 C1553.2 886.3 1556.7 885.6 1560.9 883.7 C1565.1 881.8 1570.0 878.6 1574.6 875.7 C1579.2 872.8 1584.1 870.0 1588.3 866.6 C1592.5 863.1 1595.6 860.0 1599.8 855.1 C1604.0 850.3 1608.5 842.4 1613.5 837.5 C1618.5 832.5 1624.6 828.8 1629.5 825.4 C1634.5 821.9 1638.8 819.4 1643.3 816.9 C1647.8 814.4 1654.3 811.5 1656.5 810.5" stroke="#fdd835" stroke-width="1.05" fill="none"/>
<path d="M11.5 824.2 L18.5 827.2 L25.5 829.2 L32.5 829.9 L39.5 824.2 L46.5 819.2 L53.5 820.1 L60.5 830.4 L66.5 818.5 L73.5 817.8 L80.5 813.5 L87.5 817.3 L94.5 815.1 L101.5 835.0 L108.5 823.5 L115.5 838.2 L122.5 838.6 L129.5 849.6 L136.5 841.8 L143.5 831.1 L150.5 819.6 L157.5 818.9 L164.5 810.9 L171.5 807.0 L178.5 802.9 L184.5 802.2 L191.5 797.9 L198.5 791.5 L205.5 808.9 L212.5 813.2 L219.5 811.6 L226.5 805.4 L233.5 802.5 L240.5 813.2 L247.5 810.0 L254.5 824.0 L261.5 817.6 L268.5 809.6 L275.5 811.6 L282.5 808.4 L289.5 809.3 L296.5 797.4 L302.5 797.2 L309.5 792.6 L316.5 794.0 L323.5 805.2 L330.5 800.2 L337.5 828.8 L344.5 863.8 L351.5 836.3 L358.5 848.2 L365.5 838.4 L372.5 836.8 L379.5 826.7 L386.5 835.2 L393.5 820.8 L400.5 818.5 L407.5 817.3 L414.5 824.0 L420.5 824.4 L427.5 835.0 L434.5 842.5 L441.5 850.1 L448.5 826.5 L455.5 834.5 L462.5 828.6 L469.5 828.8 L476.5 821.9 L483.5 836.3 L490.5 833.6 L497.5 846.4 L504.5 842.1 L511.5 829.0 L518.5 836.8 L525.5 831.3 L532.5 825.6 L538.5 823.5 L545.5 811.2 L552.5 812.3 L559.5 805.9 L566.5 807.0 L573.5 809.3 L580.5 801.3 L587.5 797.2 L594.5 791.5 L601.5 808.9 L608.5 818.5 L615.5 833.4 L622.5 823.1 L629.5 819.9 L636.5 815.7 L643.5 807.7 L649.5 805.4 L656.5 806.4 L663.5 799.5 L670.5 813.2 L677.5 804.1 L684.5 816.2 L691.5 885.3 L698.5 851.7 L705.5 852.8 L712.5 847.1 L719.5 858.8 L726.5 846.6 L733.5 834.5 L740.5 836.3 L747.5 844.8 L754.5 836.8 L761.5 828.1 L767.5 814.6 L774.5 812.3 L781.5 814.4 L788.5 821.9 L795.5 829.5 L802.5 826.3 L809.5 847.8 L816.5 843.0 L823.5 858.5 L830.5 857.9 L837.5 837.3 L844.5 834.5 L851.5 834.5 L858.5 862.0 L865.5 861.1 L872.5 874.6 L879.5 887.2 L885.5 871.1 L892.5 892.4 L899.5 873.4 L906.5 856.3 L913.5 848.2 L920.5 841.4 L927.5 840.7 L934.5 837.3 L941.5 843.0 L948.5 839.8 L955.5 836.1 L962.5 835.7 L969.5 833.1 L976.5 837.3 L983.5 842.1 L990.5 831.8 L997.5 825.4 L1003.5 849.8 L1010.5 852.4 L1017.5 859.7 L1024.5 872.7 L1031.5 862.7 L1038.5 847.1 L1045.5 839.1 L1052.5 834.1 L1059.5 829.5 L1066.5 829.5 L1073.5 835.7 L1080.5 839.1 L1087.5 854.0 L1094.5 851.7 L1101.5 840.2 L1108.5 829.9 L1115.5 836.3 L1121.5 835.7 L1128.5 827.2 L1135.5 825.4 L1142.5 829.9 L1149.5 844.8 L1156.5 837.9 L1163.5 840.2 L1170.5 860.8 L1177.5 880.7 L1184.5 857.4 L1191.5 851.2 L1198.5 852.4 L1205.5 841.4 L1212.5 833.4 L1219.5 831.5 L1226.5 840.2 L1233.5 848.9 L1239.5 837.5 L1246.5 856.9 L1253.5 859.7 L1260.5 889.4 L1267.5 852.8 L1274.5 846.0 L1281.5 848.2 L1288.5 849.8 L1295.5 870.7 L1302.5 873.0 L1309.5 871.1 L1316.5 868.8 L1323.5 862.0 L1330.5 865.4 L1337.5 852.8 L1344.5 867.0 L1351.5 856.3 L1357.5 841.8 L1364.5 856.9 L1371.5 862.4 L1378.5 860.8 L1385.5 873.9 L1392.5 860.1 L1399.5 870.0 L1406.5 883.0 L1413.5 871.8 L1420.5 871.1 L1427.5 875.7 L1434.5 889.0 L1441.5 897.0 L1448.5 879.8 L1455.5 874.6 L1462.5 890.1 L1469.5 888.8 L1475.5 899.3 L1482.5 889.4 L1489.5 886.0 L1496.5 886.5 L1503.5 900.9 L1510.5 915.1 L1517.5 916.2 L1524.5 876.4 L1531.5 868.2 L1538.5 866.6 L1545.5 869.3 L1552.5 860.8 L1559.5 858.5 L1566.5 834.5 L1573.5 828.8 L1580.5 828.1 L1587.5 819.6 L1593.5 810.5 L1600.5 805.2 L1607.5 803.2 L1614.5 795.1 L1621.5 798.6 L1628.5 805.9 L1635.5 800.9 L1642.5 809.3 L1649.5 801.8 L1656.5 802.9" stroke="#7e57c2" stroke-width="1.05" fill="none" stroke-linejoin="round"/>
</g>
<text x="18.2" y="47.3" font-size="12.6" fill="#131722" textLength="144" lengthAdjust="spacingAndGlyphs">US 500 · 1D · Capital.com</text>
<text x="169.6" y="47.3" font-size="12.6" fill="#131722" textLength="47.6" lengthAdjust="spacingAndGlyphs">O<tspan fill="#089981">7,156.7</tspan></text>
<text x="224" y="47.3" font-size="12.6" fill="#131722" textLength="46.3" lengthAdjust="spacingAndGlyphs">H<tspan fill="#089981">7,177.3</tspan></text>
<text x="277.7" y="47.3" font-size="12.6" fill="#131722" textLength="45.3" lengthAdjust="spacingAndGlyphs">L<tspan fill="#089981">7,140.7</tspan></text>
<text x="330" y="47.3" font-size="12.6" fill="#131722" textLength="47.7" lengthAdjust="spacingAndGlyphs">C<tspan fill="#089981">7,159.4</tspan></text>
<text x="385.5" y="47.3" font-size="12.6" fill="#089981" textLength="81.4" lengthAdjust="spacingAndGlyphs">−4.4 (−0.06%)</text>
<text x="1770.3" y="751.7" font-size="12" fill="#131722" textLength="44" lengthAdjust="spacingAndGlyphs">5,500.0</text>
<text x="1770.3" y="713.1" font-size="12" fill="#131722" textLength="44" lengthAdjust="spacingAndGlyphs">5,600.0</text>
<text x="1770.3" y="674.6" font-size="12" fill="#131722" textLength="44" lengthAdjust="spacingAndGlyphs">5,700.0</text>
<text x="1770.3" y="636.0" font-size="12" fill="#131722" textLength="44" lengthAdjust="spacingAndGlyphs">5,800.0</text>
<text x="1770.3" y="597.4" font-size="12" fill="#131722" textLength="44" lengthAdjust="spacingAndGlyphs">5,900.0</text>
<text x="1770.3" y="558.8" font-size="12" fill="#131722" textLength="44" lengthAdjust="spacingAndGlyphs">6,000.0</text>
<text x="1770.3" y="520.2" font-size="12" fill="#131722" textLength="44" lengthAdjust="spacingAndGlyphs">6,100.0</text>
<text x="1770.3" y="481.6" font-size="12" fill="#131722" textLength="44" lengthAdjust="spacingAndGlyphs">6,200.0</text>
<text x="1770.3" y="443.0" font-size="12" fill="#131722" textLength="44" lengthAdjust="spacingAndGlyphs">6,300.0</text>
<text x="1770.3" y="404.4" font-size="12" fill="#131722" textLength="44" lengthAdjust="spacingAndGlyphs">6,400.0</text>
<text x="1770.3" y="365.8" font-size="12" fill="#131722" textLength="44" lengthAdjust="spacingAndGlyphs">6,500.0</text>
<text x="1770.3" y="327.2" font-size="12" fill="#131722" textLength="44" lengthAdjust="spacingAndGlyphs">6,600.0</text>
<text x="1770.3" y="288.7" font-size="12" fill="#131722" textLength="44" lengthAdjust="spacingAndGlyphs">6,700.0</text>
<text x="1770.3" y="250.1" font-size="12" fill="#131722" textLength="44" lengthAdjust="spacingAndGlyphs">6,800.0</text>
<text x="1770.3" y="211.5" font-size="12" fill="#131722" textLength="44" lengthAdjust="spacingAndGlyphs">6,900.0</text>
<text x="1770.3" y="172.9" font-size="12" fill="#131722" textLength="44" lengthAdjust="spacingAndGlyphs">7,000.0</text>
<text x="1770.3" y="134.3" font-size="12" fill="#131722" textLength="44" lengthAdjust="spacingAndGlyphs">7,100.0</text>
<text x="1770.3" y="95.7" font-size="12" fill="#131722" textLength="44" lengthAdjust="spacingAndGlyphs">7,200.0</text>
<path d="M1762 101.0h55.5a2.5 2.5 0 0 1 2.5 2.5v12a2.5 2.5 0 0 1 -2.5 2.5h-55.5Z" fill="#089981"/>
<text x="1770.3" y="112.9" font-size="12" fill="#fff" textLength="44" lengthAdjust="spacingAndGlyphs">7,159.4</text>
<path d="M1762 206.9h55.5a2.5 2.5 0 0 1 2.5 2.5v12a2.5 2.5 0 0 1 -2.5 2.5h-55.5Z" fill="#4caf50"/>
<text x="1770.3" y="218.8" font-size="12" fill="#fff" textLength="44" lengthAdjust="spacingAndGlyphs">6,884.4</text>
<path d="M1762 224.0h55.5a2.5 2.5 0 0 1 2.5 2.5v12a2.5 2.5 0 0 1 -2.5 2.5h-55.5Z" fill="#f23645"/>
<text x="1770.3" y="235.9" font-size="12" fill="#fff" textLength="44" lengthAdjust="spacingAndGlyphs">6,842.1</text>
<path d="M1762 242.9h55.5a2.5 2.5 0 0 1 2.5 2.5v12a2.5 2.5 0 0 1 -2.5 2.5h-55.5Z" fill="#000"/>
<text x="1770.3" y="254.8" font-size="12" fill="#fff" textLength="44" lengthAdjust="spacingAndGlyphs">6,789.8</text>
<path d="M1762 270.0h55.5a2.5 2.5 0 0 1 2.5 2.5v12a2.5 2.5 0 0 1 -2.5 2.5h-55.5Z" fill="#ffeb3b"/>
<text x="1770.3" y="281.9" font-size="12" fill="#131722" textLength="44" lengthAdjust="spacingAndGlyphs">6,721.6</text>
<rect x="1765.5" y="31.5" width="55" height="26" rx="4" fill="#fff" stroke="#ebecf0" stroke-width="1"/>
<text x="1774.3" y="48" font-size="12" fill="#131722" textLength="24.6" lengthAdjust="spacingAndGlyphs">USD</text>
<text x="1770.3" y="784.9" font-size="12" fill="#131722" textLength="33.6" lengthAdjust="spacingAndGlyphs">80.00</text>
<text x="1770.3" y="836.2" font-size="12" fill="#131722" textLength="33.6" lengthAdjust="spacingAndGlyphs">60.00</text>
<text x="1770.3" y="886.2" font-size="12" fill="#131722" textLength="33.6" lengthAdjust="spacingAndGlyphs">40.00</text>
<path d="M1762 795.0h44.5a2.5 2.5 0 0 1 2.5 2.5v12a2.5 2.5 0 0 1 -2.5 2.5h-44.5Z" fill="#7e57c2"/>
<text x="1770.3" y="806.9" font-size="12" fill="#fff" textLength="33.6" lengthAdjust="spacingAndGlyphs">71.16</text>
<path d="M1762 812.1h44.5a2.5 2.5 0 0 1 2.5 2.5v12a2.5 2.5 0 0 1 -2.5 2.5h-44.5Z" fill="#fdd835"/>
<text x="1770.3" y="824.0" font-size="12" fill="#131722" textLength="33.6" lengthAdjust="spacingAndGlyphs">68.27</text>
<text x="39.0" y="949.2" font-size="12" fill="#131722" text-anchor="middle">Jun</text>
<text x="184.0" y="949.2" font-size="12" fill="#131722" text-anchor="middle">Jul</text>
<text x="344.0" y="949.2" font-size="12" fill="#131722" text-anchor="middle">Aug</text>
<text x="490.0" y="949.2" font-size="12" fill="#131722" text-anchor="middle">Sep</text>
<text x="643.0" y="949.2" font-size="12" fill="#131722" text-anchor="middle">Oct</text>
<text x="802.0" y="949.2" font-size="12" fill="#131722" text-anchor="middle">Nov</text>
<text x="941.0" y="949.2" font-size="12" fill="#131722" text-anchor="middle">Dec</text>
<text x="1094.0" y="949.2" font-size="12" fill="#131722" text-anchor="middle" font-weight="bold" textLength="31.5" lengthAdjust="spacingAndGlyphs">2026</text>
<text x="1239.0" y="949.2" font-size="12" fill="#131722" text-anchor="middle">Feb</text>
<text x="1378.0" y="949.2" font-size="12" fill="#131722" text-anchor="middle">Mar</text>
<text x="1531.0" y="949.2" font-size="12" fill="#131722" text-anchor="middle">Apr</text>
<text x="1684.0" y="949.2" font-size="12" fill="#131722" text-anchor="middle">May</text>
<g transform="translate(12.2 976.9) scale(0.817)" fill="#0f0f0f"><path d="M14 22H7V11H0V4h14v18zM28 22h-8l7.5-18h8L28 22z"/><circle cx="20" cy="8" r="4"/></g>
<text x="49" y="994.9" font-size="20.5" font-weight="bold" fill="#0f0f0f" textLength="121" lengthAdjust="spacingAndGlyphs">TradingView</text>
</svg>
</body></html>
